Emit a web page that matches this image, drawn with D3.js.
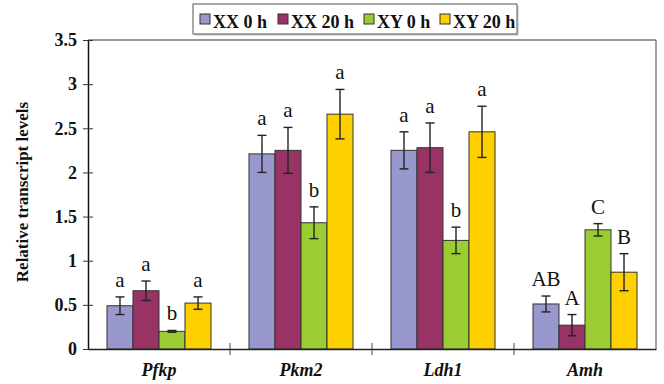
<!DOCTYPE html>
<html><head><meta charset="utf-8">
<script src="https://cdn.jsdelivr.net/npm/d3@7"></script>
<style>body{margin:0;background:#fff}svg{display:block}</style>
</head><body>
<svg id="c" width="664" height="384"></svg>
<script>
const categories = ["Pfkp", "Pkm2", "Ldh1", "Amh"];
const seriesNames = ["XX 0 h", "XX 20 h", "XY 0 h", "XY 20 h"];
const colors = ["#9898CE", "#993366", "#9ACD32", "#FFD000"];
// values per series across categories
const xx0 = [0.49, 2.21, 2.25, 0.51];
const xx20 = [0.66, 2.25, 2.28, 0.27];
const xy0 = [0.20, 1.43, 1.23, 1.35];
const xy20 = [0.52, 2.66, 2.46, 0.87];
// error (± SE)
const xx0Err = [0.10, 0.21, 0.21, 0.09];
const xx20Err = [0.11, 0.26, 0.28, 0.12];
const xy0Err = [0.01, 0.18, 0.15, 0.07];
const xy20Err = [0.07, 0.28, 0.29, 0.21];
// significance letters
const xx0Lab = ["a", "a", "a", "AB"];
const xx20Lab = ["a", "a", "a", "A"];
const xy0Lab = ["b", "b", "b", "C"];
const xy20Lab = ["a", "a", "a", "B"];
const yTicks = [0, 0.5, 1, 1.5, 2, 2.5, 3, 3.5];

const vals = [xx0, xx20, xy0, xy20];
const errs = [xx0Err, xx20Err, xy0Err, xy20Err];
const labs = [xx0Lab, xx20Lab, xy0Lab, xy20Lab];

const data = [];
categories.forEach((c, ci) => seriesNames.forEach((s, si) => {
  data.push({cat: c, ser: s, si, v: vals[si][ci], e: errs[si][ci], lab: labs[si][ci]});
}));

const svg = d3.select("#c");
const L = 88, R = 656, T = 40, B = 349;
const serif = "'Times New Roman', 'Liberation Serif', 'DejaVu Serif', serif";

const x0 = d3.scaleBand().domain(categories).range([L, R]).paddingInner(0).paddingOuter(0);
const x1 = d3.scaleBand().domain(seriesNames).range([0, x0.bandwidth()]).paddingInner(0).paddingOuter(0.73);
const y = d3.scaleLinear().domain([0, 3.5]).range([B, T]);

// frame top & right
svg.append("line").attr("x1", L).attr("x2", R).attr("y1", T).attr("y2", T).attr("stroke", "#333").attr("stroke-width", 1.2);
svg.append("line").attr("x1", R).attr("x2", R).attr("y1", T).attr("y2", B).attr("stroke", "#666").attr("stroke-width", 1.2);

// bars
svg.append("g").selectAll("rect").data(data).join("rect")
  .attr("x", d => x0(d.cat) + x1(d.ser))
  .attr("y", d => y(d.v))
  .attr("width", x1.bandwidth())
  .attr("height", d => y(0) - y(d.v))
  .attr("fill", d => colors[d.si])
  .attr("stroke", "#333").attr("stroke-width", 1);

// error bars
const eg = svg.append("g").attr("stroke", "#222").attr("stroke-width", 1.4);
data.forEach(d => {
  const cx = x0(d.cat) + x1(d.ser) + x1.bandwidth() / 2;
  const y1 = y(d.v + d.e), y2 = y(d.v - d.e);
  eg.append("line").attr("x1", cx).attr("x2", cx).attr("y1", y1).attr("y2", y2);
  eg.append("line").attr("x1", cx - 4.5).attr("x2", cx + 4.5).attr("y1", y1).attr("y2", y1);
  eg.append("line").attr("x1", cx - 4.5).attr("x2", cx + 4.5).attr("y1", y2).attr("y2", y2);
});

// letters
svg.append("g").selectAll("text").data(data).join("text")
  .attr("x", d => x0(d.cat) + x1(d.ser) + x1.bandwidth() / 2)
  .attr("y", d => y(d.v + d.e) - 10)
  .attr("text-anchor", "middle")
  .attr("font-family", serif).attr("font-size", 21).attr("fill", "#111")
  .text(d => d.lab);

// y axis
const yAxis = d3.axisLeft(y).tickValues(yTicks).tickSize(0).tickPadding(11)
  .tickFormat(d => d3.format("")(d));
const ya = svg.append("g").attr("transform", `translate(${L},0)`).call(yAxis);
ya.select(".domain").attr("stroke", "#111").attr("stroke-width", 1.5);
ya.selectAll(".tick line").remove();
ya.selectAll(".tick").append("line").attr("x1", -5).attr("x2", 5).attr("stroke", "#333");
ya.selectAll(".tick text").attr("font-family", serif).attr("font-size", 18).attr("font-weight", "bold").attr("fill", "#111");

// x axis
const xAxis = d3.axisBottom(x0).tickSize(0).tickPadding(14);
const xa = svg.append("g").attr("transform", `translate(0,${B})`).call(xAxis);
xa.select(".domain").attr("stroke", "#222").attr("stroke-width", 1.4);
xa.selectAll(".tick text").attr("font-family", serif).attr("font-size", 18)
  .attr("font-weight", "bold").attr("font-style", "italic").attr("fill", "#111");
// category separator ticks
const sep = categories.slice(1).map(c => x0(c));
xa.selectAll(".sep").data(sep).join("line").attr("class", "sep")
  .attr("x1", d => d).attr("x2", d => d).attr("y1", -6).attr("y2", 6).attr("stroke", "#444");

// y title
svg.append("text").attr("transform", `translate(28,192) rotate(-90)`)
  .attr("text-anchor", "middle").attr("font-family", serif).attr("font-size", 17)
  .attr("font-weight", "bold").attr("fill", "#111").text("Relative transcript levels");

// legend
const lg = svg.append("g");
lg.append("rect").attr("x", 195).attr("y", 6).attr("width", 324).attr("height", 30).attr("fill", "#ddd");
lg.append("rect").attr("x", 193).attr("y", 4).attr("width", 324).attr("height", 30).attr("fill", "#fff").attr("stroke", "#555").attr("stroke-width", 1);
const legX = [200, 278, 364, 440];
seriesNames.forEach((s, i) => {
  lg.append("rect").attr("x", legX[i]).attr("y", 14).attr("width", 10).attr("height", 10)
    .attr("fill", colors[i]).attr("stroke", "#333").attr("stroke-width", 1);
  lg.append("text").attr("x", legX[i] + 13).attr("y", 28)
    .attr("font-family", serif).attr("font-size", 18).attr("font-weight", "bold").attr("fill", "#111").text(s);
});
</script>
</body></html>
